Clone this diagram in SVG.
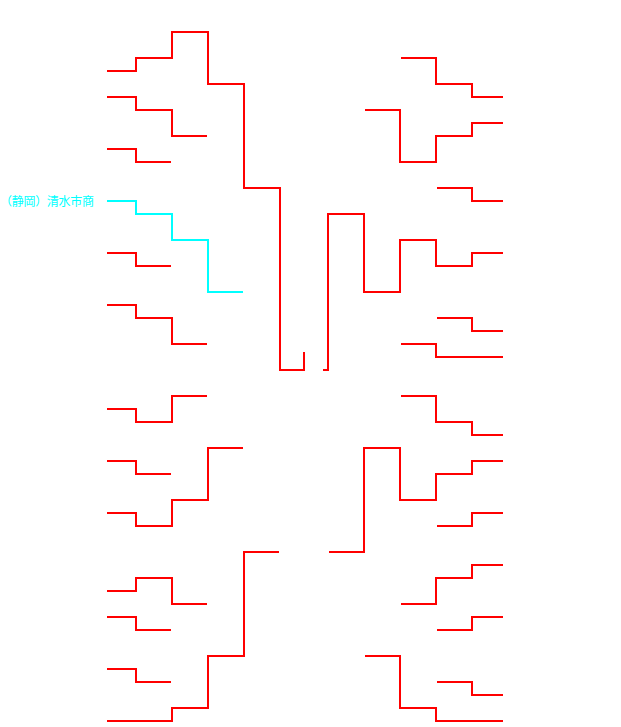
<svg xmlns="http://www.w3.org/2000/svg" width="621" height="727" viewBox="0 0 621 727">
<style>
.c{fill:none;stroke-width:2;stroke-linejoin:miter;stroke-linecap:butt}
.r{stroke:#f00}
.a{stroke:#0ff}
text{font:12px "Noto Sans CJK JP","Noto Sans CJK SC",sans-serif;fill:#0ff}
</style>
<rect width="621" height="727" fill="#fff"/>
<g id="connectors">
<g id="left">
<path class="c r" d="M107 71H136V58H172V32H208V84H244V188H280V370H304V352"/>
<path class="c r" d="M107 97H136V110H172V136H207"/>
<path class="c r" d="M107 149H136V162H171"/>
<path class="c r" d="M107 253H136V266H171"/>
<path class="c r" d="M107 305H136V318H172V344H207"/>
<path class="c r" d="M107 409H136V422H172V396H207"/>
<path class="c r" d="M107 461H136V474H171"/>
<path class="c r" d="M107 513H136V526H172V500H208V448H243"/>
<path class="c r" d="M107 591H136V578H172V604H207"/>
<path class="c r" d="M107 617H136V630H171"/>
<path class="c r" d="M107 669H136V682H171"/>
<path class="c r" d="M107 721H172V708H208V656H244V552H279"/>
<path class="c a" d="M107 201H136V214H172V240H208V292H243"/>
</g>
<g id="right">
<path class="c r" d="M401 58H436V84H472V97H503"/>
<path class="c r" d="M365 110H400V162H436V136H472V123H503"/>
<path class="c r" d="M437 188H472V201H503"/>
<path class="c r" d="M323 370H328V214H364V292H400V240H436V266H472V253H503"/>
<path class="c r" d="M437 318H472V331H503"/>
<path class="c r" d="M401 344H436V357H503"/>
<path class="c r" d="M401 396H436V422H472V435H503"/>
<path class="c r" d="M329 552H364V448H400V500H436V474H472V461H503"/>
<path class="c r" d="M437 526H472V513H503"/>
<path class="c r" d="M401 604H436V578H472V565H503"/>
<path class="c r" d="M437 630H472V617H503"/>
<path class="c r" d="M365 656H400V708H436V721H503"/>
<path class="c r" d="M437 682H472V695H503"/>
</g>
</g>
<g id="team-label"><text x="0" y="206" textLength="94" lengthAdjust="spacing">（静岡）清水市商</text></g>
</svg>
